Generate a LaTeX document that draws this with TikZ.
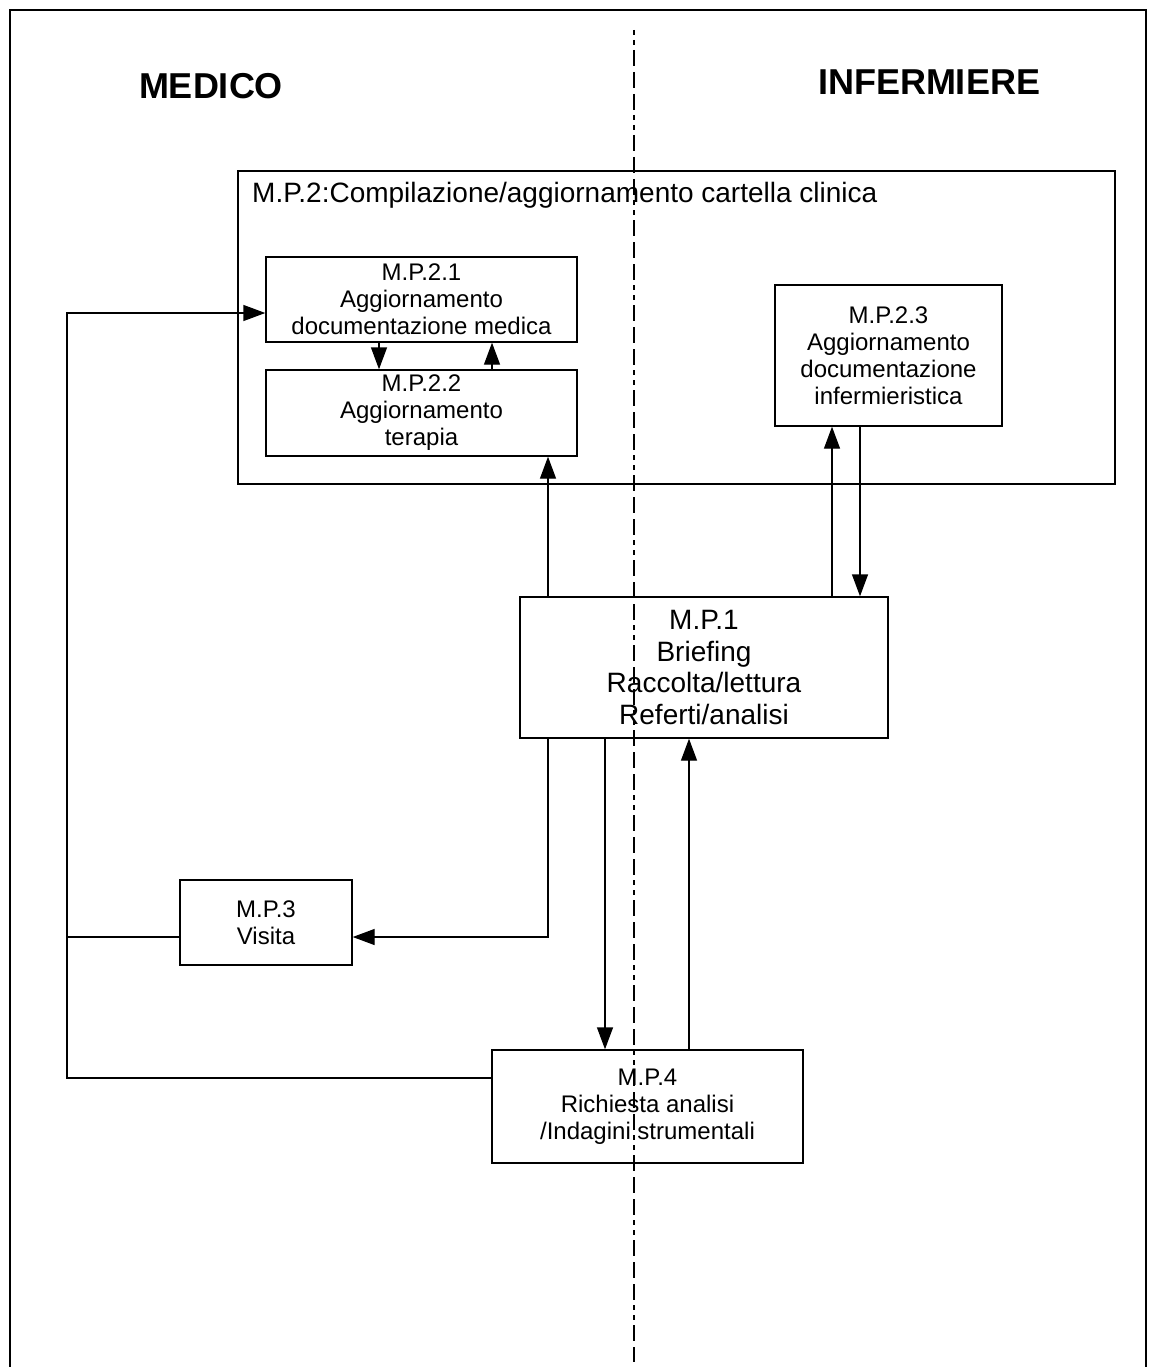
\documentclass[tikz,border=0pt]{standalone}
\usepackage{fontspec}
\setmainfont{Liberation Sans}
\usetikzlibrary{arrows.meta}

\begin{document}
\begin{tikzpicture}[x=1pt,y=-1pt,
  box/.style={draw, rectangle, line width=1.4pt, inner sep=0pt, align=center,
    font=\fontsize{24}{27}\selectfont},
  arr/.style={line width=1.4pt, -{Triangle[length=22pt,width=16pt]}},
  link/.style={line width=1.4pt},
  lane/.style={font=\bfseries\fontsize{36}{40}\selectfont}
]
\useasboundingbox (0,0) rectangle (1153,1367);

% outer frame, open at the bottom
\draw[line width=2.6pt] (10,1367) -- (10,10) -- (1146,10) -- (1146,1367);

% lane headings
\node[lane, anchor=base] (medico) at (211,99) {MEDICO};
\node[lane, anchor=base] (inferm) at (929,95) {INFERMIERE};

% M.P.2 container
\node[draw, rectangle, line width=1.4pt, minimum width=877pt, minimum height=313pt, inner sep=0pt]
  (mp2) at (676.5,327.5) {};
\node[anchor=base west, inner sep=0pt, font=\fontsize{28}{32}\selectfont]
  (mp2t) at (252,203) {M.P.2:Compilazione/aggiornamento cartella clinica};

% process boxes
\node[box, minimum width=311pt, minimum height=85pt] (mp21) at (421.5,299.5)
  {M.P.2.1\\Aggiornamento\\documentazione medica};
\node[box, minimum width=311pt, minimum height=86pt] (mp22) at (421.5,413)
  {M.P.2.2\\Aggiornamento\\terapia};
\node[box, minimum width=227pt, minimum height=141pt] (mp23) at (888.5,355.5)
  {M.P.2.3\\Aggiornamento\\documentazione\\infermieristica};
\node[box, minimum width=368pt, minimum height=141pt,
  font=\fontsize{28}{31.5}\selectfont] (mp1) at (704,667.5)
  {M.P.1\\Briefing\\Raccolta/lettura\\Referti/analisi};
\node[box, minimum width=172pt, minimum height=85pt] (mp3) at (266,922.5)
  {M.P.3\\Visita};
\node[box, minimum width=311pt, minimum height=113pt] (mp4) at (647.5,1106.5)
  {M.P.4\\Richiesta analisi\\/Indagini strumentali};

% columns and rows used by the connectors
\coordinate (cL) at (67,0);
\coordinate (c1) at (379,0);
\coordinate (c2) at (492,0);
\coordinate (c3) at (548,0);
\coordinate (c4) at (605,0);
\coordinate (c5) at (689,0);
\coordinate (c6) at (832,0);
\coordinate (c7) at (860,0);
\coordinate (r1) at (0,313);
\coordinate (r2) at (0,937);
\coordinate (r3) at (0,1078);

% connectors inside M.P.2
\draw[arr] (mp21.south -| c1) -- (mp22.north -| c1);
\draw[arr] (mp22.north -| c2) -- (mp21.south -| c2);

% M.P.1 with M.P.2
\draw[arr] (mp1.north -| c3) -- (mp22.south -| c3);
\draw[arr] (mp1.north -| c6) -- (mp23.south -| c6);
\draw[arr] (mp23.south -| c7) -- (mp1.north -| c7);

% M.P.1 with M.P.3 and M.P.4
\draw[arr] (mp1.south -| c3) -- (c3 |- r2) -- (mp3.east |- r2);
\draw[arr] (mp1.south -| c4) -- (mp4.north -| c4);
\draw[arr] (mp4.north -| c5) -- (mp1.south -| c5);

% feedback to M.P.2.1
\draw[arr] (mp4.west |- r3) -- (cL |- r3) -- (cL |- r1) -- (mp21.west |- r1);
\draw[link] (mp3.west |- r2) -- (cL |- r2);

% lane separator
\coordinate (sepT) at (634,30);
\coordinate (sepB) at (634,1362);
\draw[line width=1.6pt, dash pattern=on 5pt off 5pt on 5pt off 5pt on 16pt off 6pt on 16pt off 6pt on 16pt off 5pt]
  (sepT) -- (sepB);
\end{tikzpicture}
\end{document}
